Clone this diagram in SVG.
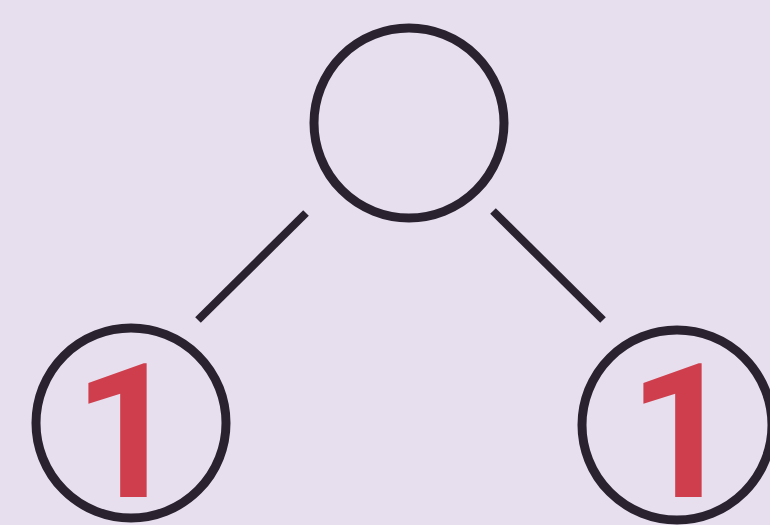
<svg xmlns="http://www.w3.org/2000/svg" width="770" height="525" viewBox="0 0 770 525">
<style>
.node{fill:none;stroke:#2b2230;stroke-width:9}
.edge{stroke:#2b2230;stroke-width:8;stroke-linecap:butt}
.num{fill:#cf3e4c;font-family:Roboto,"Liberation Sans",sans-serif;font-weight:700;font-size:188px}
</style>
<rect width="770" height="525" fill="#e7dfee"/>
<g id="connectors">
<line class="edge" x1="306" y1="213" x2="198" y2="320"/>
<line class="edge" x1="493" y1="211" x2="603" y2="320"/>
</g>
<g id="root"><circle class="node" cx="409" cy="123" r="95"/></g>
<g id="left"><circle class="node" cx="131" cy="423" r="95"/><text class="num" x="127" y="497" text-anchor="middle">1</text></g>
<g id="right"><circle class="node" cx="677" cy="425" r="95"/><text class="num" x="682" y="497" text-anchor="middle">1</text></g>
</svg>
